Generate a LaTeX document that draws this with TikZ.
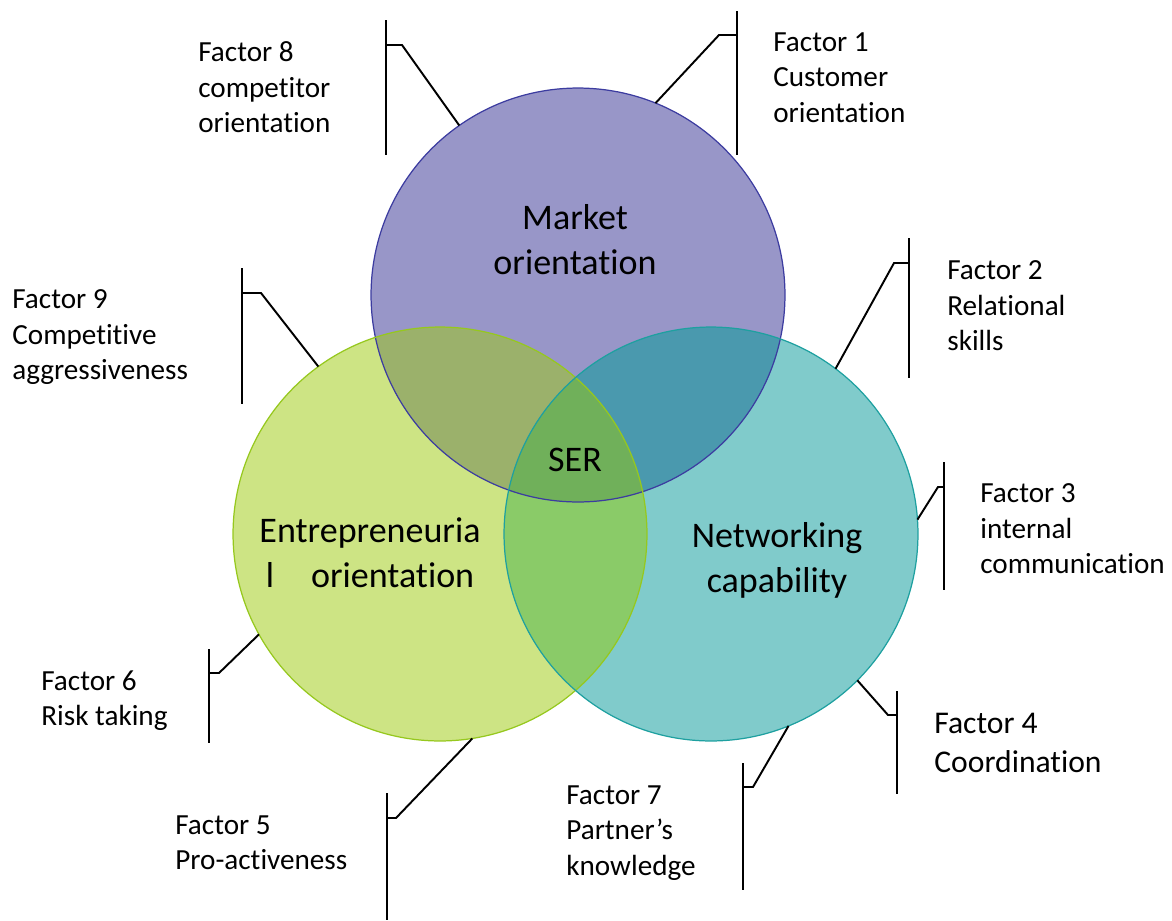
\documentclass[tikz,border=0pt]{standalone}
\usepackage{fontspec}
\setmainfont{Carlito}[RawFeature={-liga}]
\usetikzlibrary{positioning}

\definecolor{mktfill}{RGB}{152,150,200}
\definecolor{entfill}{RGB}{205,228,132}
\definecolor{netfill}{RGB}{128,203,203}
\definecolor{mefill}{RGB}{155,177,107}
\definecolor{mnfill}{RGB}{74,153,174}
\definecolor{enfill}{RGB}{138,203,104}
\definecolor{serfill}{RGB}{112,176,90}
\definecolor{mktline}{RGB}{60,60,160}
\definecolor{entline}{RGB}{150,200,30}
\definecolor{netline}{RGB}{30,160,160}

\tikzset{
  venn/.style={circle, minimum size=8.28cm, inner sep=0pt, outer sep=0pt},
  callout/.style={black, line width=1.1pt},
  factor/.style={font=\fontsize{16.6}{20.4}\selectfont, align=left, inner sep=0pt, anchor=north west},
  title/.style={font=\fontsize{20.5}{25.5}\selectfont, align=center, inner sep=0pt}
}

\begin{document}
\begin{tikzpicture}[x=0.02cm, y=-0.02cm]
\useasboundingbox (0,0) rectangle (1172,920);
\def\rad{4.14cm}

% the three circles
\node[venn] (mkt) at (578,295) {};
\node[venn] (ent) at (440,534) {};
\node[venn] (net) at (711,534) {};

\fill[mktfill] (mkt.center) circle (\rad);
\fill[entfill] (ent.center) circle (\rad);
\fill[netfill] (net.center) circle (\rad);
\begin{scope}
  \clip (mkt.center) circle (\rad);
  \fill[mefill] (ent.center) circle (\rad);
  \fill[mnfill] (net.center) circle (\rad);
\end{scope}
\begin{scope}
  \clip (ent.center) circle (\rad);
  \fill[enfill] (net.center) circle (\rad);
  \clip (mkt.center) circle (\rad);
  \fill[serfill] (net.center) circle (\rad);
\end{scope}
\draw[mktline, line width=0.7pt] (mkt.center) circle (\rad);
\draw[entline, line width=0.7pt] (ent.center) circle (\rad);
\draw[netline, line width=0.7pt] (net.center) circle (\rad);

% circle labels
\node[title] (mkttxt) at (575,240) {Market\\orientation};
\node[title] (enttxt) at (370,553) {Entrepreneuria\\l\hspace{0.74cm}orientation};
\node[title] (nettxt) at (777,560) {Networking\\capability};
\node[title] (sertxt) at (575,460) {SER};

% factor texts
\node[factor] (f8) at (198,41) {Factor 8\\competitor\\orientation};
\node[factor] (f1) at (773,32) {Factor 1\\Customer\\orientation};
\node[factor] (f2) at (947,260) {Factor 2\\Relational\\skills};
\node[factor] (f3) at (980,483) {Factor 3\\internal\\communication};
\node[factor] (f9) at (12,289) {Factor 9\\Competitive\\aggressiveness};
\node[factor] (f6) at (41,670) {Factor 6\\Risk taking};
\node[factor] (f5) at (175,815) {Factor 5\\Pro-activeness};
\node[factor, font=\fontsize{18}{22}\selectfont] (f4) at (934,713) {Factor 4\\Coordination};
\node[factor] (f7) at (566,785) {Factor 7\\Partner’s\\knowledge};

% callout bars
\coordinate (b8t) at (386,20);  \coordinate (b8b) at (386,155); \coordinate (b8) at (386,45);
\coordinate (b1t) at (737,11);  \coordinate (b1b) at (737,155); \coordinate (b1) at (737,35);
\coordinate (b2t) at (909,238); \coordinate (b2b) at (909,378); \coordinate (b2) at (909,263);
\coordinate (b3t) at (944,462); \coordinate (b3b) at (944,590); \coordinate (b3) at (944,487);
\coordinate (b9t) at (242,268); \coordinate (b9b) at (242,404); \coordinate (b9) at (242,293);
\coordinate (b6t) at (209,649); \coordinate (b6b) at (209,743); \coordinate (b6) at (209,673);
\coordinate (b5t) at (387,793); \coordinate (b5b) at (387,920); \coordinate (b5) at (387,818);
\coordinate (b4t) at (897,691); \coordinate (b4b) at (897,794); \coordinate (b4) at (897,715);
\coordinate (b7t) at (743,763); \coordinate (b7b) at (743,890); \coordinate (b7) at (743,787);

\foreach \i in {8,1,2,3,9,6,5,4,7}
  \draw[callout] (b\i t) -- (b\i b);

% callout leaders
\draw[callout] (b8) -- ++(16,0) -- (mkt.125.5);
\draw[callout] (b1) -- ++(-18,0) -- (mkt.68.2);
\draw[callout] (b2) -- ++(-15,0) -- (net.53.5);
\draw[callout] (b3) -- ++(-6,0) -- (net.4.5);
\draw[callout] (b9) -- ++(19,0) -- (ent.126.2);
\draw[callout] (b6) -- ++(10,0) -- (ent.-151.6);
\draw[callout] (b5) -- ++(9,0) -- (ent.-81.3);
\draw[callout] (b4) -- ++(-9,0) -- (net.-45.6);
\draw[callout] (b7) -- ++(10,0) -- (net.-68.5);
\end{tikzpicture}
\end{document}
